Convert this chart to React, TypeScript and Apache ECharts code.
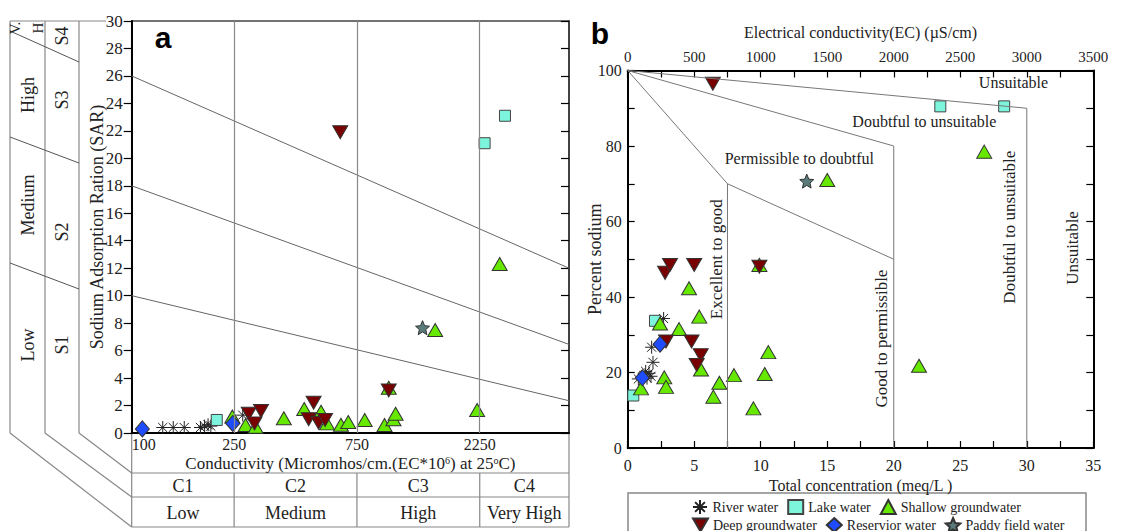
import React, { useEffect, useRef } from 'react';
import * as echarts from 'echarts';

const SERIF = '"Liberation Serif", "Times New Roman", serif';
const SANS = '"Liberation Sans", Arial, sans-serif';

// ---------- Panel a: US Salinity diagram (EC µmhos/cm vs SAR) ----------
const ecTicksA = [100, 250, 750, 2250];
const classBreaks = [250, 750, 2250];
const salinityClasses = ['C1', 'C2', 'C3', 'C4'];
const salinityLevels = ['Low', 'Medium', 'High', 'Very High'];
const sarBoundaries = [
  [[100, 10], [5000, 2.35]],
  [[100, 18], [5000, 6.45]],
  [[100, 26], [5000, 12]],
];
const riverA = [[132, 0.4], [145, 0.4], [160, 0.4], [185, 0.4], [192, 0.5], [198, 0.6], [203, 0.5], [270, 1.3]];
const lakeA = [[214, 0.95], [2350, 21.1], [2820, 23.1]];
const shallowA = [[246, 1.2], [277, 0.58], [303, 0.46], [390, 1.07], [468, 1.75], [544, 1.55], [574, 0.7], [650, 0.6], [694, 0.8], [804, 0.95], [960, 0.58], [1040, 1.0], [1060, 1.4], [997, 3.3], [1510, 7.5], [2198, 1.67], [2690, 12.3]];
const deepA = [[646, 21.9], [997, 3.1], [285, 1.4], [300, 0.7], [318, 1.6], [487, 1.0], [509, 2.2], [532, 0.75], [564, 0.95]];
const reservoirA = [[110, 0.3], [247, 0.7]];
const paddyA = [[1349, 7.67]];

// ---------- Panel b: Wilcox diagram (meq/L vs %Na) ----------
const wilcoxLines = [
  [[0, 100], [7.5, 70], [7.5, 0]],
  [[7.5, 70], [20, 50]],
  [[0, 100], [20, 80], [20, 0]],
  [[0, 100], [30, 90], [30, 0]],
];
const riverB = [[2.7, 34.3], [1.8, 26.7], [1.9, 22.7], [1.6, 19.8], [1.35, 20.3], [0.8, 18.3], [1.75, 19], [1.45, 18.5]];
const lakeB = [[0.42, 13.9], [2.05, 33.7], [23.5, 90.5], [28.3, 90.5]];
const shallowB = [[1.0, 15.8], [2.43, 33], [3.86, 31.5], [4.61, 42.3], [5.38, 34.8], [2.75, 18.7], [2.88, 16.2], [5.51, 20.8], [6.44, 13.6], [6.89, 17.3], [7.99, 19.3], [9.45, 10.5], [10.3, 19.6], [10.57, 25.4], [9.9, 48.5], [21.9, 21.8], [26.8, 78.5], [15.0, 71]];
const deepB = [[6.4, 96.5], [2.81, 46.4], [3.18, 48.5], [5.0, 48.5], [9.9, 48.0], [2.88, 28.2], [4.8, 28.2], [5.49, 24.6], [5.19, 22.0]];
const reservoirB = [[1.1, 18.6], [2.43, 27.5]];
const paddyB = [[13.46, 70.7]];

const REGION_LABELS = [
  { text: 'Unsuitable', x: 29, y: 96.7, vertical: false },
  { text: 'Doubtful to unsuitable', x: 22.3, y: 86.4, vertical: false },
  { text: 'Permissible to doubtful', x: 12.9, y: 76.8, vertical: false },
  { text: 'Excellent to good', x: 6.7, y: 50, vertical: true },
  { text: 'Good to permissible', x: 19.05, y: 29, vertical: true },
  { text: 'Doubtful to unsuitable', x: 28.7, y: 58.5, vertical: true },
  { text: 'Unsuitable', x: 33.4, y: 53, vertical: true },
];

const ASTERISK = 'path://M10,0L10,20M0,10L20,10M3,3L17,17M3,17L17,3';
const STAR = 'path://M10,0L12.9,6.9L20,7.6L14.6,12.3L16.2,19.3L10,15.6L3.8,19.3L5.4,12.3L0,7.6L7.1,6.9Z';
const DOWN_TRIANGLE = 'path://M0,0L20,0L10,17.3Z';

const GROUPS = [
  { name: 'River water', a: riverA, b: riverB, symbol: ASTERISK, size: 13, color: '#222', border: '#222' },
  { name: 'Lake water', a: lakeA, b: lakeB, symbol: 'rect', size: 11, color: '#7cf5dc', border: '#444' },
  { name: 'Shallow groundwater', a: shallowA, b: shallowB, symbol: 'triangle', size: [15, 13], color: '#66e800', border: '#333' },
  { name: 'Deep groundwater', a: deepA, b: deepB, symbol: DOWN_TRIANGLE, size: [15, 13], color: '#780000', border: '#333' },
  { name: 'Reservior water', a: reservoirA, b: reservoirB, symbol: 'diamond', size: [14, 16], color: '#1f4cff', border: '#333' },
  { name: 'Paddy field water', a: paddyA, b: paddyB, symbol: STAR, size: 14, color: '#5b7b7b', border: '#333' },
];

const grey = '#888';
const axisFont = { fontFamily: SERIF, color: '#222' };

function buildOption(): any {
  const series: any[] = [];
  sarBoundaries.forEach((d, i) => {
    series.push({
      type: 'line', xAxisIndex: 0, yAxisIndex: 0, data: d, symbol: 'none', silent: true,
      lineStyle: { color: '#666', width: 1 },
      markLine: i === 0 ? {
        silent: true, symbol: ['none', 'none'], label: { show: false },
        lineStyle: { color: grey, width: 1.2, type: 'solid' },
        data: classBreaks.map((v) => ({ xAxis: v })),
      } : undefined,
    });
  });
  wilcoxLines.forEach((d) => {
    series.push({
      type: 'line', xAxisIndex: 1, yAxisIndex: 2, data: d, symbol: 'none', silent: true,
      lineStyle: { color: '#777', width: 1 },
    });
  });
  GROUPS.forEach((g) => {
    const common = {
      type: 'scatter', name: g.name, symbol: g.symbol, symbolSize: g.size,
      itemStyle: { color: g.color, borderColor: g.border, borderWidth: 1, opacity: 1 },
    };
    series.push({ ...common, xAxisIndex: 0, yAxisIndex: 0, data: g.a });
    series.push({ ...common, xAxisIndex: 1, yAxisIndex: 2, data: g.b });
  });

  const legendCommon = {
    left: 692, itemWidth: 15, itemHeight: 14, itemGap: 9, padding: 0,
    textStyle: { fontFamily: SERIF, fontSize: 14, color: '#222', padding: [0, 0, 0, 0] },
  };

  return {
    animation: false,
    backgroundColor: '#fff',
    textStyle: { fontFamily: SERIF },
    grid: [
      { left: 131.7, top: 21, width: 437.3, height: 412, show: true, borderColor: '#444', borderWidth: 1.5, backgroundColor: 'transparent' },
      { left: 627.7, top: 70.5, width: 465.6, height: 377.5 },
    ],
    legend: [
      { ...legendCommon, top: 499, data: ['River water', 'Lake water', 'Shallow groundwater'] },
      { ...legendCommon, top: 517, data: ['Deep groundwater', 'Reservior water', 'Paddy field water'] },
    ],
    xAxis: [
      {
        gridIndex: 0, type: 'log', logBase: 10, min: 100, max: 5000, position: 'bottom',
        axisLine: { show: true, onZero: false, lineStyle: { color: '#000', width: 2 } },
        axisTick: { show: false }, splitLine: { show: false }, minorTick: { show: false },
        axisLabel: { customValues: ecTicksA, formatter: (v: number) => String(Math.round(v)), fontSize: 16, margin: 3, alignMinLabel: 'left', ...axisFont },
        name: 'Conductivity (Micromhos/cm.(EC*10{sup|6}) at 25{sup|o}C)',
        nameLocation: 'middle', nameGap: 22, nameMoveOverlap: false,
        nameTextStyle: { fontSize: 17, lineHeight: 17, ...axisFont, rich: { sup: { fontSize: 10, lineHeight: 10, fontFamily: SERIF, color: '#222', verticalAlign: 'top' } } },
      },
      {
        gridIndex: 1, type: 'value', min: 0, max: 35, interval: 5, position: 'bottom',
        axisLine: { show: true, onZero: false, lineStyle: { color: '#000', width: 2 } },
        axisTick: { show: true, inside: true, length: 7, lineStyle: { color: '#000', width: 1.2 } },
        minorTick: { show: true, splitNumber: 2, length: 7, lineStyle: { color: '#000', width: 1.2 } },
        splitLine: { show: false },
        axisLabel: { fontSize: 16, margin: 9, ...axisFont },
        name: 'Total concentration (meq/L )', nameLocation: 'middle', nameGap: 29, nameMoveOverlap: false,
        nameTextStyle: { fontSize: 16, ...axisFont },
      },
      {
        gridIndex: 1, type: 'value', min: 0, max: 3500, interval: 500, position: 'top',
        axisLine: { show: true, onZero: false, lineStyle: { color: '#000', width: 2 } },
        axisTick: { show: true, inside: true, length: 7, lineStyle: { color: '#000', width: 1.2 } },
        minorTick: { show: true, splitNumber: 2, length: 7, lineStyle: { color: '#000', width: 1.2 } },
        splitLine: { show: false },
        axisLabel: { fontSize: 15, margin: 6, formatter: (v: number) => String(v), ...axisFont },
        name: 'Electrical conductivity(EC) (\u00b5S/cm)', nameLocation: 'middle', nameGap: 30, nameMoveOverlap: false,
        nameTextStyle: { fontSize: 16, ...axisFont },
      },
    ],
    yAxis: [
      {
        gridIndex: 0, type: 'value', min: 0, max: 30, interval: 2, position: 'left',
        axisLine: { show: true, onZero: false, lineStyle: { color: '#000', width: 2 } },
        axisTick: { show: true, inside: false, length: 8, lineStyle: { color: '#000', width: 1.2 } },
        splitLine: { show: false },
        axisLabel: { fontSize: 17, margin: 9, ...axisFont },
        name: 'Sodium Adsorption Ration (SAR)', nameLocation: 'middle', nameGap: 26, nameMoveOverlap: false,
        nameTextStyle: { fontSize: 18, ...axisFont },
      },
      {
        gridIndex: 0, type: 'value', min: 0, max: 30, interval: 2, position: 'right',
        axisLine: { show: true, onZero: false, lineStyle: { color: '#333', width: 1.5 } },
        axisTick: { show: true, inside: true, length: 8, lineStyle: { color: '#000', width: 1.2 } },
        splitLine: { show: false }, axisLabel: { show: false },
      },
      {
        gridIndex: 1, type: 'value', min: 0, max: 100, interval: 20, position: 'left',
        axisLine: { show: true, onZero: false, lineStyle: { color: '#000', width: 2 } },
        axisTick: { show: true, inside: true, length: 7, lineStyle: { color: '#000', width: 1.2 } },
        minorTick: { show: true, splitNumber: 2, length: 7, lineStyle: { color: '#000', width: 1.2 } },
        splitLine: { show: false },
        axisLabel: { fontSize: 16, margin: 6, ...axisFont },
        name: 'Percent sodium', nameLocation: 'middle', nameGap: 24, nameMoveOverlap: false,
        nameTextStyle: { fontSize: 18, ...axisFont },
      },
      {
        gridIndex: 1, type: 'value', min: 0, max: 100, interval: 20, position: 'right',
        axisLine: { show: true, onZero: false, lineStyle: { color: '#000', width: 2 } },
        axisTick: { show: true, inside: true, length: 7, lineStyle: { color: '#000', width: 1.2 } },
        minorTick: { show: true, splitNumber: 2, length: 7, lineStyle: { color: '#000', width: 1.2 } },
        splitLine: { show: false }, axisLabel: { show: false },
      },
    ],
    series,
  };
}

function buildGraphic(chart: any): any[] {
  const px = (finder: any, v: number) => chart.convertToPixel(finder, v) as number;
  const aLeft = px({ xAxisIndex: 0 }, 100);
  const aRight = px({ xAxisIndex: 0 }, 5000);
  const aBottom = px({ yAxisIndex: 0 }, 0);
  const aTop = px({ yAxisIndex: 0 }, 30);
  const breaks = classBreaks.map((v) => px({ xAxisIndex: 0 }, v));
  const row1 = aBottom + 40, row2 = aBottom + 64, row3 = aBottom + 94;
  const colX = [10, 45, 79];
  const g: any[] = [];
  const line = (x1: number, y1: number, x2: number, y2: number, color = grey, w = 1.2) =>
    g.push({ type: 'line', silent: true, shape: { x1, y1, x2, y2 }, style: { stroke: color, lineWidth: w } });
  const text = (t: string, x: number, y: number, size: number, rot = 0, font = SERIF, weight = 'normal', fill = '#222') =>
    g.push({ type: 'text', silent: true, x, y, rotation: rot, style: { text: t, fontSize: size, fontFamily: font, fontWeight: weight, fill, align: 'center', verticalAlign: 'middle' } });

  // salinity table below panel a
  [row1, row2, row3].forEach((y) => line(aLeft, y, aRight, y));
  line(aLeft, aBottom, aLeft, row3);
  line(aRight, aBottom, aRight, row3);
  breaks.forEach((x) => line(x, row1, x, row3));
  const bounds = [aLeft, ...breaks, aRight];
  salinityClasses.forEach((c, i) => text(c, (bounds[i] + bounds[i + 1]) / 2, (row1 + row2) / 2 + 1, 18));
  salinityLevels.forEach((c, i) => text(c, (bounds[i] + bounds[i + 1]) / 2, (row2 + row3) / 2 + 1, 18));

  // sodium hazard table on the left of panel a
  colX.forEach((x) => line(x, aTop, x, aBottom));
  line(colX[0], aTop, 106, aTop);
  line(colX[0], aTop + 10, colX[2], aTop + 41, '#555', 1);
  line(colX[0], aTop + 116, colX[2], aTop + 142, '#555', 1);
  line(colX[0], aTop + 242, colX[2], aTop + 268, '#555', 1);
  line(colX[2], aBottom, aLeft, row1);
  line(colX[1], aBottom, aLeft, row2);
  line(colX[0], aBottom, aLeft, row3);
  const R = Math.PI / 2;
  text('Low', 27.5, 345, 18, R);
  text('Medium', 27.5, 205, 18, R);
  text('High', 27.5, 95, 18, R);
  text('V.', 15, 28, 15, R);
  text('H', 38, 28, 15, R);
  text('S1', 62, 345, 18, R);
  text('S2', 62, 232, 18, R);
  text('S3', 62, 100, 18, R);
  text('S4', 62, 36, 18, R);

  // region labels in panel b
  REGION_LABELS.forEach((r) => {
    const x = px({ xAxisIndex: 1 }, r.x);
    const y = px({ yAxisIndex: 2 }, r.y);
    text(r.text, x, y, r.vertical ? 17 : 16, r.vertical ? R : 0);
  });

  // panel letters
  text('a', 163, 37, 30, 0, SANS, 'bold', '#000');
  text('b', 600, 33, 30, 0, SANS, 'bold', '#000');

  // legend box
  g.push({ type: 'rect', silent: true, z: -1, shape: { x: 628, y: 493, width: 458, height: 50 }, style: { fill: 'none', stroke: grey, lineWidth: 1.5 } });
  return g;
}

export default function App() {
  const ref = useRef<HTMLDivElement>(null);
  useEffect(() => {
    const chart = echarts.init(ref.current!, null, { renderer: 'svg' });
    chart.setOption(buildOption());
    chart.setOption({ graphic: buildGraphic(chart) });
    return () => chart.dispose();
  }, []);
  return <div ref={ref} style={{ position: 'fixed', left: 0, top: 0, width: 1142, height: 531, background: '#fff' }} />;
}
